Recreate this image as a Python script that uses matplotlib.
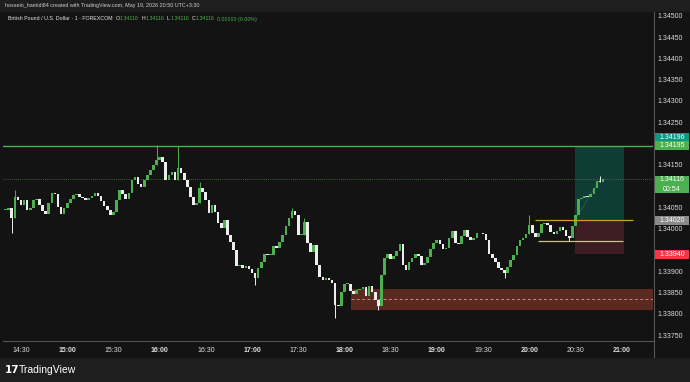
import numpy as np
import matplotlib.pyplot as plt
from matplotlib.patches import Rectangle
import matplotlib.transforms as mtransforms

plt.rcParams['font.family'] = ['Liberation Sans', 'DejaVu Sans']

# GBPUSD, 2 minute closes, first bar 14:20
closes = [
    1.34044, 1.34048, 1.34025, 1.34074, 1.34067, 1.34055, 1.34067, 1.34044, 1.34048, 1.34067,
    1.34069, 1.34055, 1.34041, 1.34034, 1.34060, 1.34083, 1.34081, 1.34050, 1.34034, 1.34048,
    1.34060, 1.34069, 1.34079, 1.34081, 1.34074, 1.34072, 1.34067, 1.34072, 1.34076, 1.34083,
    1.34076, 1.34065, 1.34053, 1.34044, 1.34032, 1.34039, 1.34067, 1.34091, 1.34081, 1.34069,
    1.34083, 1.34114, 1.34121, 1.34105, 1.34098, 1.34114, 1.34126, 1.34138, 1.34149, 1.34161,
    1.34168, 1.34156, 1.34114, 1.34126, 1.34133, 1.34114, 1.34142, 1.34130, 1.34114, 1.34098,
    1.34074, 1.34055, 1.34060, 1.34095, 1.34086, 1.34067, 1.34037, 1.34055, 1.34039, 1.34013,
    1.34001, 1.34020, 1.33985, 1.33968, 1.33950, 1.33912, 1.33914, 1.33907, 1.33912, 1.33905,
    1.33896, 1.33884, 1.33907, 1.33921, 1.33940, 1.33938, 1.33938, 1.33959, 1.33954, 1.33968,
    1.33985, 1.34006, 1.34025, 1.34041, 1.34032, 1.33985, 1.33985, 1.34015, 1.33966, 1.33945,
    1.33961, 1.33914, 1.33886, 1.33879, 1.33884, 1.33879, 1.33872, 1.33820, 1.33818, 1.33851,
    1.33870, 1.33870, 1.33853, 1.33846, 1.33856, 1.33858, 1.33863, 1.33842, 1.33865, 1.33851,
    1.33832, 1.33818, 1.33891, 1.33931, 1.33940, 1.33928, 1.33935, 1.33947, 1.33963, 1.33914,
    1.33903, 1.33921, 1.33931, 1.33940, 1.33935, 1.33914, 1.33919, 1.33933, 1.33952, 1.33966,
    1.33973, 1.33963, 1.33952, 1.33954, 1.33978, 1.33994, 1.33966, 1.33963, 1.33982, 1.33996,
    1.33980, 1.33973, 1.33978, 1.33989, 1.33989, 1.33987, 1.33973, 1.33940, 1.33931, 1.33921,
    1.33907, 1.33903, 1.33896, 1.33910, 1.33926, 1.33938, 1.33959, 1.33973, 1.33978, 1.33987,
    1.34008, 1.33989, 1.33980, 1.33989, 1.34011, 1.34013, 1.34008, 1.33992, 1.33987, 1.33994,
    1.34004, 1.33997, 1.33982, 1.33978, 1.34006, 1.34032, 1.34069, 1.34072, 1.34076, 1.34074,
    1.34081, 1.34095, 1.34112, 1.34109, 1.34116]

# visible wick extremes (bar index, price)
wick_idx = [2, 3, 49, 56, 63, 81, 93, 97, 107, 121, 162, 170, 183, 193]
wick_px = [1.33990, 1.34091, 1.34196, 1.34195, 1.34109, 1.33868, 1.34048, 1.34025,
           1.33790, 1.33809, 1.33884, 1.34032, 1.33971, 1.34123]

tick_times = ['14:30', '15:00', '15:30', '16:00', '16:30', '17:00', '17:30',
              '18:00', '18:30', '19:00', '19:30', '20:00', '20:30', '21:00']
# 1.34200, 1.34100 and 1.33950 sit under the price badges
price_ticks = [1.3375, 1.338, 1.3385, 1.339, 1.34, 1.3405,
               1.3415, 1.3425, 1.343, 1.3435, 1.344, 1.3445, 1.345]

res_line = 1.34195
last_price = 1.34116
entry, target, stop = 1.34020, 1.34195, 1.33940
range_low = 1.33971
zone_top, zone_bot, zone_mid = 1.33858, 1.33809, 1.33835

UP = '#4caf50'
DOWN = '#ededed'
BG = '#131313'

W, H = 690, 382
fig = plt.figure(figsize=(W / 100, H / 100), dpi=100)
fig.patch.set_facecolor('#1e1e1e')
fig.patches.append(Rectangle((0, 25 / H), 1, 345 / H, transform=fig.transFigure,
                             color=BG, zorder=-1))

ax = fig.add_axes([3 / W, (H - 341) / H, 650 / W, 329 / H])
ax.set_facecolor(BG)

# minutes after 14:00
t = 20 + 2 * np.arange(len(closes))
opens = [closes[0]] + closes[:-1]
for ti, o, c in zip(t, opens, closes):
    col = UP if c >= o else DOWN
    lo, hi = min(o, c), max(o, c)
    ax.bar(ti, max(hi - lo, 0.000015), bottom=lo, width=1.7, color=col, zorder=3, linewidth=0)
for i, p in zip(wick_idx, wick_px):
    c, o = closes[i], opens[i]
    col = UP if c >= o else DOWN
    ax.vlines(t[i], min(o, c, p), max(o, c, p), color=col, lw=0.7, zorder=3)

# drawings
ax.axhline(res_line, color='#4caf50', lw=1.0, zorder=4)
ax.axhline(last_price, color='#4e7a4e', lw=0.6, ls=(0, (1, 1.5)), zorder=2)

ax.add_patch(Rectangle((244.3, zone_bot), 440.4 - 244.3, zone_top - zone_bot,
                       color='#5a2a20', lw=0, zorder=1))
ax.hlines(zone_mid, 244.3, 440.4, color='#c98a78', lw=0.7, ls=(0, (3, 2.5)), zorder=1.5)

ax.add_patch(Rectangle((389.7, entry), 421.6 - 389.7, target - entry,
                       color='#0f3d35', lw=0, zorder=1))
ax.add_patch(Rectangle((389.7, stop), 421.6 - 389.7, entry - stop,
                       color='#3d1c22', lw=0, zorder=1))
ax.plot([389.7, 406], [entry, last_price], color='#7a8a86', lw=0.5, ls=(0, (1, 1.5)), zorder=2)
ax.hlines(entry, 363.8, 427.4, color='#c9a227', lw=0.9, zorder=4)
ax.hlines(range_low, 365.7, 420.9, color='#cbbf8a', lw=0.9, zorder=4)

ax.set_xlim(18.3, 440.4)
ax.set_ylim(1.33736, 1.34509)

ax.set_xticks(np.arange(30, 421, 30))
ax.set_xticklabels(tick_times)
for lab in ax.get_xticklabels():
    lab.set_fontweight('bold' if lab.get_text().endswith(':00') else 'normal')
ax.set_yticks(price_ticks)
ax.set_yticklabels(['%.5f' % p for p in price_ticks])
ax.yaxis.tick_right()
ax.tick_params(axis='both', length=0, colors='#dcdcdc', labelsize=5)
ax.tick_params(axis='y', pad=3.5)
ax.tick_params(axis='x', pad=4)
for s in ['top', 'left', 'right']:
    ax.spines[s].set_visible(False)
ax.spines['bottom'].set_color('#555555')
ax.spines['bottom'].set_linewidth(0.8)
fig.lines.append(plt.Line2D([653.5 / W, 653.5 / W], [25 / H, 1 - 12 / H],
                            transform=fig.transFigure, color='#555555', lw=0.8))

# price scale badges
trans = mtransforms.blended_transform_factory(ax.transAxes, ax.transData)
px = (1.34509 - 1.33736) / 329


def badge(center, text, color, tcolor='white', h=9):
    ax.add_patch(Rectangle((1.003, center - h / 2 * px), 0.0525, h * px, transform=trans,
                           color=color, clip_on=False, zorder=6, lw=0))
    ax.text(1.029, center, text, transform=trans, ha='center', va='center', fontsize=5,
            color=tcolor, zorder=7, clip_on=False, linespacing=1.5)


badge(res_line + 8 * px, '1.34196', '#089981')
badge(res_line, '1.34195', '#4caf50')
badge(last_price - 5 * px, '1.34116\n00:54', '#4caf50', h=17)
badge(entry, '1.34020', '#8a8a8a')
badge(stop, '1.33940', '#f23645')

# header and legend
fig.text(5 / W, 1 - 6 / H, 'hossein_hamidi84 created with TradingView.com, May 19, 2026 20:50 UTC+3:30',
         fontsize=3.9, color='#cfcfcf', va='center')

legend = [('British Pound / U.S. Dollar · 1 · FOREXCOM', '#e6e6e6', 3),
          ('O', '#e6e6e6', 0.4), ('1.34116', '#4caf50', 2.5),
          ('H', '#e6e6e6', 0.4), ('1.34116', '#4caf50', 2.5),
          ('L', '#e6e6e6', 0.4), ('1.34116', '#4caf50', 2.5),
          ('C', '#e6e6e6', 0.4), ('1.34116', '#4caf50', 2.5),
          ('0.00000 (0.00%)', '#4caf50', 0)]
fig.canvas.draw()
rend = fig.canvas.get_renderer()
lx, ly = 8, 1 - 19 / H
for txt, col, gap in legend:
    tt = fig.text(lx / W, ly, txt, fontsize=3.75, color=col, va='center')
    lx += tt.get_window_extent(renderer=rend).width + gap

# watermark
fig.text(5 / W, 1 - 370 / H, '17', fontsize=7.5, fontweight='bold', color='white',
         va='center', family='DejaVu Sans')
fig.text(19 / W, 1 - 370 / H, 'TradingView', fontsize=7.5, color='white', va='center')

fig.savefig('out.png', dpi=100, facecolor=fig.get_facecolor())
